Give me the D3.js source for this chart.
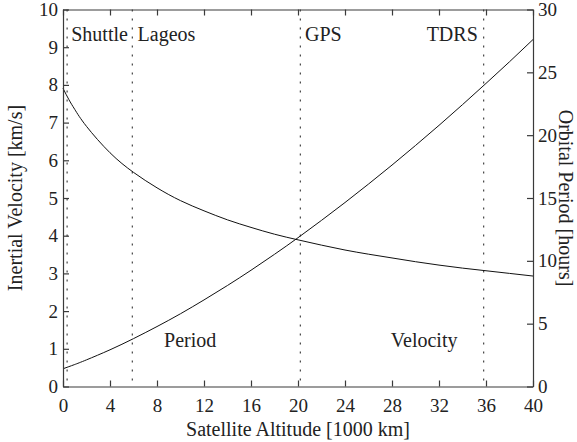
<!DOCTYPE html>
<html>
<head>
<meta charset="utf-8">
<script src="https://cdn.jsdelivr.net/npm/d3@7"></script>
<style>
  html, body { margin: 0; padding: 0; background: #fff; }
  text { font-family: "Liberation Serif", "Times New Roman", serif; fill: #222; }
</style>
</head>
<body>
<svg id="chart" width="577" height="442"></svg>
<script>
// Satellite altitude [1000 km]
const altitude = [0, 0.5, 1, 2, 4, 6, 8, 10, 12, 14, 16, 18, 20, 22, 24, 26, 28, 30, 32, 34, 36, 38, 40];
// Inertial velocity [km/s]
const velocity = [7.91, 7.61, 7.35, 6.90, 6.20, 5.68, 5.27, 4.93, 4.66, 4.42, 4.22, 4.04, 3.89, 3.75, 3.62, 3.51, 3.41, 3.31, 3.22, 3.14, 3.07, 3.00, 2.93];
// Orbital period [hours]
const period = [1.41, 1.58, 1.75, 2.12, 2.92, 3.81, 4.77, 5.79, 6.89, 8.04, 9.25, 10.52, 11.84, 13.22, 14.64, 16.11, 17.62, 19.18, 20.78, 22.43, 24.12, 25.84, 27.61];

const xTicks = [0, 4, 8, 12, 16, 20, 24, 28, 32, 36, 40];
const yLeftTicks = [0, 1, 2, 3, 4, 5, 6, 7, 8, 9, 10];
const yRightTicks = [0, 5, 10, 15, 20, 25, 30];

// Reference orbits
const orbitNames = ["Shuttle", "Lageos", "GPS", "TDRS"];
const orbitAltitudes = [0.35, 5.9, 20.2, 35.8];

const curveLabels = ["Period", "Velocity"];
const curveLabelX = [8.6, 27.9];
const curveLabelY = [1.05, 1.05];

const xLabel = "Satellite Altitude [1000 km]";
const yLeftLabel = "Inertial Velocity [km/s]";
const yRightLabel = "Orbital Period [hours]";

const svg = d3.select("#chart");
const L = 63, R = 533, T = 9.5, B = 386.5;
const x = d3.scaleLinear().domain([0, 40]).range([L, R]);
const yL = d3.scaleLinear().domain([0, 10]).range([B, T]);
const yR = d3.scaleLinear().domain([0, 30]).range([B, T]);

const axisColor = "#3a3a3a";
const fsTick = 19;
const fs = 20;
const tickLen = 6;

// orbit dotted lines
orbitAltitudes.forEach((a, i) => {
  svg.append("line")
    .attr("x1", x(a)).attr("x2", x(a))
    .attr("y1", T).attr("y2", B)
    .attr("stroke", "#444").attr("stroke-width", 1.2)
    .attr("stroke-dasharray", "2,7");
});

// curves
const lineV = d3.line().x((d, i) => x(altitude[i])).y(d => yL(d)).curve(d3.curveNatural);
const lineP = d3.line().x((d, i) => x(altitude[i])).y(d => yR(d)).curve(d3.curveNatural);
svg.append("path").attr("d", lineV(velocity)).attr("fill", "none").attr("stroke", "#111").attr("stroke-width", 1);
svg.append("path").attr("d", lineP(period)).attr("fill", "none").attr("stroke", "#111").attr("stroke-width", 1);

// axes with D3 axis generators (inner ticks)
const gB = svg.append("g").attr("transform", `translate(0,${B})`)
  .call(d3.axisBottom(x).tickValues(xTicks).tickSizeInner(-tickLen).tickSizeOuter(0).tickPadding(12.5).tickFormat(d3.format("d")));
const gT = svg.append("g").attr("transform", `translate(0,${T})`)
  .call(d3.axisTop(x).tickValues(xTicks).tickSizeInner(-tickLen).tickSizeOuter(0).tickFormat(""));
const gL = svg.append("g").attr("transform", `translate(${L},0)`)
  .call(d3.axisLeft(yL).tickValues(yLeftTicks).tickSizeInner(-tickLen).tickSizeOuter(0).tickPadding(5).tickFormat(d3.format("d")));
const gR = svg.append("g").attr("transform", `translate(${R},0)`)
  .call(d3.axisRight(yR).tickValues(yRightTicks).tickSizeInner(-tickLen).tickSizeOuter(0).tickPadding(5).tickFormat(d3.format("d")));

[gB, gT, gL, gR].forEach(g => {
  g.select(".domain").attr("stroke", axisColor).attr("stroke-width", 1.2);
  g.selectAll(".tick line").attr("stroke", axisColor).attr("stroke-width", 1.2);
  g.selectAll(".tick text").attr("font-size", fsTick).attr("font-family", "Liberation Serif").attr("fill", "#222");
});

// orbit labels
const orbitLabelX = [0.7, 6.35, 20.6, 35.3];
const orbitAnchor = ["start", "start", "start", "end"];
orbitNames.forEach((n, i) => {
  svg.append("text").attr("x", x(orbitLabelX[i])).attr("y", 41)
    .attr("text-anchor", orbitAnchor[i]).attr("font-size", fs).text(n);
});

// curve labels
curveLabels.forEach((n, i) => {
  svg.append("text").attr("x", x(curveLabelX[i])).attr("y", yL(curveLabelY[i]))
    .attr("font-size", fs).text(n);
});

// axis labels
svg.append("text").attr("x", (L + R) / 2).attr("y", 435.5).attr("text-anchor", "middle")
  .attr("font-size", fs).text(xLabel);
svg.append("text").attr("transform", `translate(22,${(T + B) / 2}) rotate(-90)`)
  .attr("text-anchor", "middle").attr("font-size", fs).text(yLeftLabel);
svg.append("text").attr("transform", `translate(559,${(T + B) / 2}) rotate(90)`)
  .attr("text-anchor", "middle").attr("font-size", fs).text(yRightLabel);
</script>
</body>
</html>
